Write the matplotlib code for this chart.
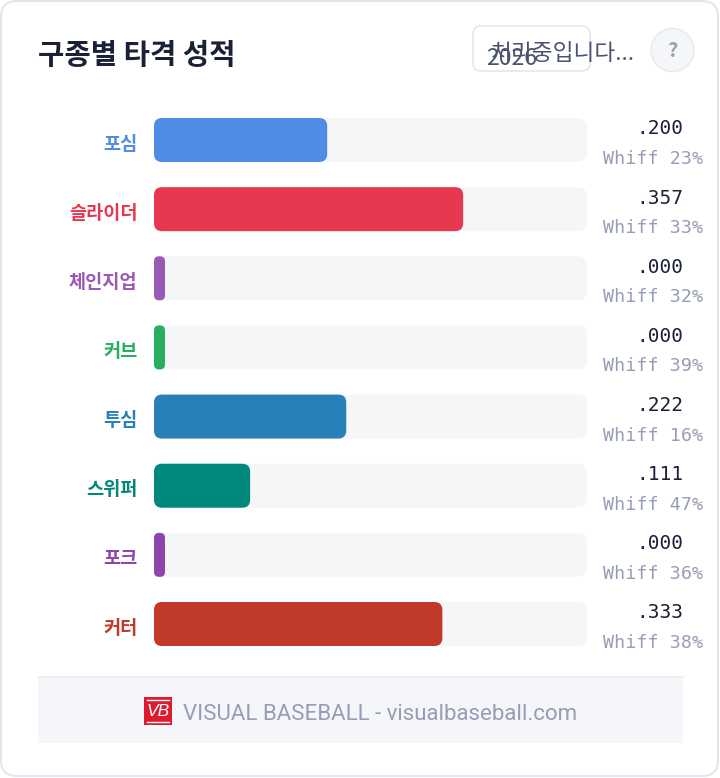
import matplotlib
matplotlib.use('Agg')
import matplotlib.pyplot as plt
from matplotlib.patches import FancyBboxPatch, Circle, Rectangle

plt.rcParams['font.family'] = ['Noto Sans CJK KR', 'DejaVu Sans']

pitches = ['포심', '슬라이더', '체인지업', '커브', '투심', '스위퍼', '포크', '커터']
avg = [0.200, 0.357, 0.000, 0.000, 0.222, 0.111, 0.000, 0.333]
avg_labels = ['.200', '.357', '.000', '.000', '.222', '.111', '.000', '.333']
whiff = [23, 33, 32, 39, 16, 47, 36, 38]
colors = ['#4e8ce6', '#e8384f', '#9b59b6', '#27ae60', '#2980b9', '#00897b', '#8e44ad', '#c0392b']

W, H = 720, 778
fig = plt.figure(figsize=(W / 100, H / 100), dpi=100, facecolor='white')

# background layer in pixels
bg = fig.add_axes([0, 0, 1, 1])
bg.set_xlim(0, W)
bg.set_ylim(H, 0)
bg.axis('off')


def rbox(x, y, w, h, r, **kw):
    p = FancyBboxPatch((x, y), w, h, boxstyle='round,pad=0,rounding_size=%g' % r, **kw)
    bg.add_patch(p)


rbox(1, 1, 717, 775, 16, fc='white', ec='#e2e5ec', lw=1.4)
bg.text(38, 55, '구종별 타격 성적', fontsize=20.6, fontweight='bold', color='#1a2035', va='center', ha='left')

# year box + loading text
rbox(473, 26, 117, 45, 8, fc='white', ec='#e3e6ec', lw=1.1)
bg.text(486, 58, '2026', fontsize=16.5, color='#4a5270', va='center', ha='left')
bg.text(491, 53, '처리중입니다...', fontsize=16.3, color='#4a5270', va='center', ha='left')

# help button
bg.add_patch(Circle((672.5, 50), 21.5, fc='#f5f6f9', ec='#e8eaf0', lw=1.1))
bg.text(672.5, 50, '?', fontsize=14.5, fontweight='bold', color='#9aa0b8', va='center', ha='center')

# footer
bg.add_patch(Rectangle((38, 677), 645, 66, fc='#f5f6f9', ec='none'))
bg.plot([38, 683], [677, 677], color='#eceef2', lw=1.2)
bg.add_patch(Rectangle((144, 697), 28, 28, fc='#dc1c2e', ec='none'))
bg.plot([147, 169], [700, 700], color='white', lw=1)
bg.plot([147, 169], [722, 722], color='white', lw=1)
bg.text(158, 711, 'VB', fontsize=12.5, style='italic', color='white',
        family='Liberation Sans', va='center', ha='center')
bg.text(183, 714, 'VISUAL BASEBALL - visualbaseball.com', fontsize=16, color='#979db5',
        family='Roboto', va='center', ha='left')

# bars
ax = fig.add_axes([154 / W, (H - 646) / H, 433 / W, 528 / H])
ax.patch.set_alpha(0)
ax.set_xlim(0, 0.5)
step = 484 / 7
ax.set_ylim(7 + 22 / step, -22 / step)
ax.axis('off')

xpx = 0.5 / 433
ypx = 1 / step
asp = ypx / xpx
bar_h = 44 / step
min_w = 11 * xpx

for i in range(len(pitches)):
    ax.add_patch(FancyBboxPatch((0, i - bar_h / 2), 0.5, bar_h, mutation_aspect=asp,
                                boxstyle='round,pad=0,rounding_size=%g' % (10 * xpx),
                                fc='#f5f6f8', ec='none'))
    r = 8 * xpx
    w = max(avg[i], min_w)
    if w <= min_w:
        r = 5 * xpx
    ax.add_patch(FancyBboxPatch((0, i - bar_h / 2), w, bar_h, mutation_aspect=asp,
                                boxstyle='round,pad=0,rounding_size=%g' % r,
                                fc=colors[i], ec='none'))
    ax.annotate(pitches[i], xy=(0, i), xytext=(-16.5, -4), textcoords='offset pixels',
                ha='right', va='center', fontsize=13.4, fontweight='bold', color=colors[i],
                annotation_clip=False)
    ax.annotate(avg_labels[i], xy=(0.5, i), xytext=(96, 11), textcoords='offset pixels',
                ha='right', va='center', fontsize=14, color='#1a2035',
                family='DejaVu Sans Mono', annotation_clip=False)
    ax.annotate('Whiff %d%%' % whiff[i], xy=(0.5, i), xytext=(116, -19), textcoords='offset pixels',
                ha='right', va='center', fontsize=13.2, color='#979db5',
                family='DejaVu Sans Mono', annotation_clip=False)

fig.savefig('out.png', dpi=100)
